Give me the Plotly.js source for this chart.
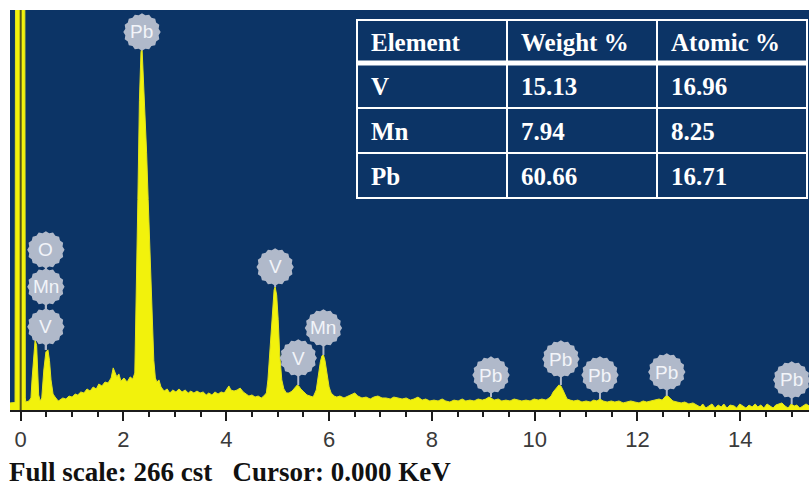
<!DOCTYPE html>
<html>
<head>
<meta charset="utf-8">
<script src="https://cdn.plot.ly/plotly-3.0.1.min.js"></script>
<style>
  html, body { margin: 0; padding: 0; background: #ffffff; }
  #chart { width: 809px; height: 491px; }
</style>
</head>
<body>
<div id="chart"></div>
<script>
// EDS spectrum: energy (keV) and counts per channel group
const energyKeV = [
  -0.21, -0.13, -0.11, -0.10, 0.08, 0.09, 0.10, 0.16, 0.20, 0.22, 0.25, 0.28, 0.31, 0.33, 0.35, 0.38,
  0.41, 0.45, 0.49, 0.53, 0.56, 0.59, 0.63, 0.67, 0.73,
  0.76, 0.82, 0.88, 0.94, 1.00, 1.06, 1.11, 1.17, 1.23, 1.29, 1.35, 1.41, 1.47, 1.52, 1.58, 1.64,
  1.70, 1.76, 1.80, 1.83, 1.87, 1.91, 1.95, 2.01, 2.07, 2.13, 2.18, 2.22,
  2.25, 2.28, 2.31, 2.34, 2.36, 2.39, 2.42, 2.45, 2.48, 2.52, 2.55, 2.59, 2.62, 2.65, 2.69, 2.73,
  2.79, 2.85, 2.90, 2.96, 3.02, 3.08, 3.14, 3.20, 3.26, 3.31, 3.37, 3.43, 3.49, 3.55, 3.61, 3.66,
  3.72, 3.78, 3.84, 3.90, 3.96, 4.01, 4.05, 4.09, 4.15, 4.21, 4.27, 4.33, 4.38, 4.44, 4.50, 4.56,
  4.62, 4.68, 4.73, 4.78,
  4.81, 4.85, 4.89, 4.93, 4.95, 4.98, 5.01, 5.04, 5.08, 5.12, 5.17, 5.22,
  5.28, 5.34, 5.38, 5.41, 5.45, 5.51, 5.57, 5.63, 5.69,
  5.75, 5.79, 5.83, 5.86, 5.89, 5.92, 5.96, 6.00, 6.04, 6.10,
  6.15, 6.21, 6.29, 6.37, 6.45, 6.50, 6.56, 6.64, 6.72, 6.80, 6.87, 6.95, 7.03, 7.11, 7.19, 7.26,
  7.34, 7.42, 7.50, 7.58, 7.65, 7.73, 7.81, 7.88, 7.96, 8.04, 8.12, 8.20, 8.27, 8.35, 8.43, 8.51,
  8.59, 8.66, 8.74, 8.82, 8.90, 8.98, 9.05, 9.11, 9.15, 9.21, 9.29, 9.36, 9.44, 9.52, 9.60, 9.68,
  9.75, 9.83, 9.91, 9.99, 10.07, 10.14, 10.22, 10.28, 10.32,
  10.36, 10.40, 10.44, 10.47, 10.51, 10.55, 10.59, 10.63, 10.69,
  10.76, 10.84, 10.92, 11.00, 11.08, 11.15, 11.21, 11.27, 11.33, 11.41, 11.49, 11.56, 11.64, 11.72,
  11.80, 11.87, 11.95, 12.03, 12.11, 12.18, 12.26, 12.34, 12.42, 12.48, 12.52, 12.55, 12.59, 12.63,
  12.69, 12.77, 12.85, 12.92, 13.00, 13.08, 13.16,
  13.22, 13.27, 13.33, 13.39, 13.45, 13.51, 13.57, 13.63, 13.68, 13.74, 13.80, 13.88, 13.93, 13.99,
  14.05, 14.11, 14.17, 14.23, 14.29, 14.34, 14.40, 14.46, 14.52, 14.58, 14.64, 14.69, 14.75, 14.81,
  14.87, 14.93, 14.99, 15.05, 15.10, 15.16, 15.22, 15.28, 15.34
];
const counts = [
  4.7, 5.3, 5, 300, 300, 8, 5.3, 6, 8, 20, 36.6, 46.5, 43, 26.6, 10, 6,
  8, 26.6, 38.6, 40, 33, 20, 10.6, 8.6, 6,
  6.6, 8, 7.3, 9.3, 8.6, 10.6, 10, 12, 11.3, 14, 12.6, 15.3, 14, 17.3, 16, 18.6,
  18, 21.3, 28, 25.3, 22, 24, 19.3, 21.3, 18.6, 22, 20.6, 24.6,
  73, 140, 206, 238, 241.4, 219, 190, 171, 140, 100, 63, 33, 21.3, 18.6, 20, 15.3,
  12.6, 14, 11.3, 13.3, 12, 14, 12, 13.3, 11.3, 12.6, 11.3, 12.6, 11.3, 12, 10, 11.3,
  10, 12, 10.6, 12, 11.3, 14, 16, 13.3, 12.6, 13.3, 14.6, 12, 10.6, 9.3, 10, 8.6,
  9.3, 8, 9.3, 11.3,
  20, 40, 66.5, 79.8, 81.8, 76.5, 60, 36.6, 20, 14, 11.3, 11.3,
  12.6, 14.6, 16.6, 16, 14, 12, 10, 9.3, 8.6,
  13.3, 23.3, 32, 36, 36.6, 33, 23.3, 15.3, 11.3, 9.3,
  8.6, 9.3, 8, 9.3, 10.6, 11.3, 9.3, 8, 8.6, 7.3, 8.6, 9.3, 8, 8, 7.3, 8.6,
  8, 7.3, 8, 6.6, 7.3, 8.6, 6.6, 7.3, 6, 6.6, 6, 7.3, 6, 5.3, 6.6, 6,
  7.3, 6, 6.6, 6, 7.3, 6.6, 7.3, 8.6, 8, 6.6, 7.3, 6, 6.6, 6, 7.3, 6.6,
  6, 6.6, 6, 7.3, 6.6, 7.3, 6.6, 8, 9.3,
  12, 14, 15.3, 16.6, 16, 13.3, 10, 7.3, 6.6,
  6, 6.6, 5.3, 6, 5.3, 6.6, 6, 7.3, 6, 5.3, 6, 5.3, 6, 4.7,
  5.3, 6, 5.3, 4.7, 6, 5.3, 6, 6.6, 7.3, 6.6, 8, 9.3, 9.3, 8,
  6, 5.3, 4.7, 5.3, 4, 4.7, 3.3,
  2, 4, 1.3, 2.7, 4, 1.3, 3.3, 2, 4, 1.3, 3.3, 2.7, 1.3, 4,
  2.7, 1.3, 3.3, 2, 4, 2, 3.3, 1.3, 4, 2.7, 1.3, 3.3, 4, 4.7,
  2.7, 1.3, 4, 2.7, 3.3, 1.3, 2.7, 4, 2.7
];

// Identified lines (element badge + energy in keV)
const peakElements = ['O', 'Mn', 'V', 'Pb', 'V', 'V', 'Mn', 'Pb', 'Pb', 'Pb', 'Pb', 'Pb'];
const peakEnergies = [0.49, 0.49, 0.49, 2.36, 4.95, 5.40, 5.89, 9.15, 10.51, 11.27, 12.57, 15.0];

// Quantification table
const tableHeader = ['Element', 'Weight %', 'Atomic %'];
const tableElements = ['V', 'Mn', 'Pb'];
const weightPct = ['15.13', '7.94', '60.66'];
const atomicPct = ['16.96', '8.25', '16.71'];

const fullScaleCounts = 266;
const cursorKeV = 0.000;

// ---- page geometry ----
const W = 809, H = 491;
const M = { l: 10, r: 0, t: 10, b: 81 };
const plotW = W - M.l - M.r, plotH = H - M.t - M.b;
const xRange = [-0.208, 15.337];

const bg = '#0c3466';
const yellow = '#f2f20c';
const badgeFill = '#b0b9ca';

const px2paperX = px => (px - M.l) / plotW;
const py2paperY = py => (H - M.b - py) / plotH;

// badge lift above the peak top, in pixels (stacked labels sit higher)
const badgeLift = [100, 63, 23, 15, 20, 27, 27, 22, 26, 24, 24, 24];
const badgeR = 17.5;

function peakTop(e) {
  let m = 0;
  for (let i = 0; i < energyKeV.length; i++) {
    if (Math.abs(energyKeV[i] - e) <= 0.05) m = Math.max(m, counts[i]);
  }
  return m;
}

// scalloped disc outline around (0, cy), pixel units
function badgePath(cy) {
  const n = 32, pts = [];
  for (let i = 0; i < n; i++) {
    const a = 2 * Math.PI * i / n;
    const r = (i % 2 === 0) ? badgeR + 1.2 : badgeR - 0.5;
    pts.push((r * Math.cos(a)).toFixed(2) + ',' + (cy + r * Math.sin(a)).toFixed(2));
  }
  return 'M' + pts.join('L') + 'Z';
}

const shapes = [];
const annotations = [];

// cursor marker
shapes.push({
  type: 'line', xref: 'x', yref: 'paper', x0: cursorKeV, x1: cursorKeV, y0: 0, y1: 1,
  line: { color: '#55551a', width: 2 }, layer: 'above'
});

// element badges
peakElements.forEach((el, i) => {
  const e = peakEnergies[i];
  const top = peakTop(e);
  const lift = badgeLift[i];
  shapes.push({
    type: 'line', xref: 'x', yref: 'y', ysizemode: 'pixel', yanchor: top,
    x0: e, x1: e, y0: 0, y1: lift,
    line: { color: badgeFill, width: 2 }
  });
  shapes.push({
    type: 'path', xref: 'x', yref: 'y', xsizemode: 'pixel', ysizemode: 'pixel',
    xanchor: e, yanchor: top, path: badgePath(lift),
    fillcolor: badgeFill, line: { width: 0 }
  });
  annotations.push({
    x: e, y: top, xref: 'x', yref: 'y', yshift: lift, showarrow: false,
    text: el, font: { family: 'Liberation Sans, Arial, sans-serif', size: 19, color: '#f2f4f9' }
  });
});

// quantification table
const tbl = { left: 357, right: 807, top: 20, bottom: 198, cols: [357, 507, 657], rows: [20, 63, 108, 153, 198] };
shapes.push({
  type: 'rect', xref: 'paper', yref: 'paper',
  x0: px2paperX(tbl.left), x1: px2paperX(tbl.right), y0: py2paperY(tbl.bottom), y1: py2paperY(tbl.top),
  fillcolor: bg, line: { color: '#ffffff', width: 2 }
});
[tbl.cols[1], tbl.cols[2]].forEach(cx => shapes.push({
  type: 'line', xref: 'paper', yref: 'paper',
  x0: px2paperX(cx), x1: px2paperX(cx), y0: py2paperY(tbl.bottom), y1: py2paperY(tbl.top),
  line: { color: '#ffffff', width: 2 }
}));
[tbl.rows[1], tbl.rows[2], tbl.rows[3]].forEach((ry, k) => shapes.push({
  type: 'line', xref: 'paper', yref: 'paper',
  x0: px2paperX(tbl.left), x1: px2paperX(tbl.right), y0: py2paperY(ry), y1: py2paperY(ry),
  line: { color: '#ffffff', width: k === 0 ? 5 : 2 }
}));

const tableRows = [tableHeader].concat(tableElements.map((el, i) => [el, weightPct[i], atomicPct[i]]));
tableRows.forEach((row, r) => {
  const cy = (tbl.rows[r] + tbl.rows[r + 1]) / 2;
  row.forEach((txt, c) => annotations.push({
    xref: 'paper', yref: 'paper', x: px2paperX(tbl.cols[c] + 12), y: py2paperY(cy + 1),
    xanchor: 'left', yanchor: 'middle', showarrow: false, text: txt,
    font: { family: 'Liberation Serif, Times New Roman, serif', size: 25, color: '#ffffff', weight: 'bold' }
  }));
});

// status line under the axis
annotations.push({
  xref: 'paper', yref: 'paper', x: px2paperX(7), y: py2paperY(472),
  xanchor: 'left', yanchor: 'middle', showarrow: false,
  text: 'Full scale: ' + fullScaleCounts + ' cst\u00A0\u00A0 Cursor: ' + cursorKeV.toFixed(3) + ' KeV',
  font: { family: 'Liberation Serif, Times New Roman, serif', size: 27, color: '#111111', weight: 'bold' }
});

const trace = {
  x: energyKeV, y: counts, type: 'scatter', mode: 'lines',
  fill: 'tozeroy', fillcolor: yellow,
  line: { color: '#e4e41c', width: 1 },
  hoverinfo: 'skip', showlegend: false
};

const layout = {
  width: W, height: H, margin: M,
  paper_bgcolor: '#ffffff', plot_bgcolor: bg,
  showlegend: false,
  xaxis: {
    range: xRange, fixedrange: true, showgrid: false, zeroline: false,
    showline: true, linecolor: '#1c1c1c', linewidth: 2,
    ticks: 'outside', tick0: 0, dtick: 2, ticklen: 9, tickwidth: 2, tickcolor: '#1c1c1c',
    tickfont: { family: 'Liberation Sans, Arial, sans-serif', size: 22, color: '#3a3a3a' },
    minor: { ticks: 'outside', dtick: 0.5, tick0: 0, ticklen: 5, tickwidth: 2, tickcolor: '#1c1c1c' }
  },
  yaxis: { range: [0, fullScaleCounts], visible: false, fixedrange: true },
  shapes: shapes,
  annotations: annotations
};

Plotly.newPlot('chart', [trace], layout, { staticPlot: true, displayModeBar: false });
</script>
</body>
</html>
